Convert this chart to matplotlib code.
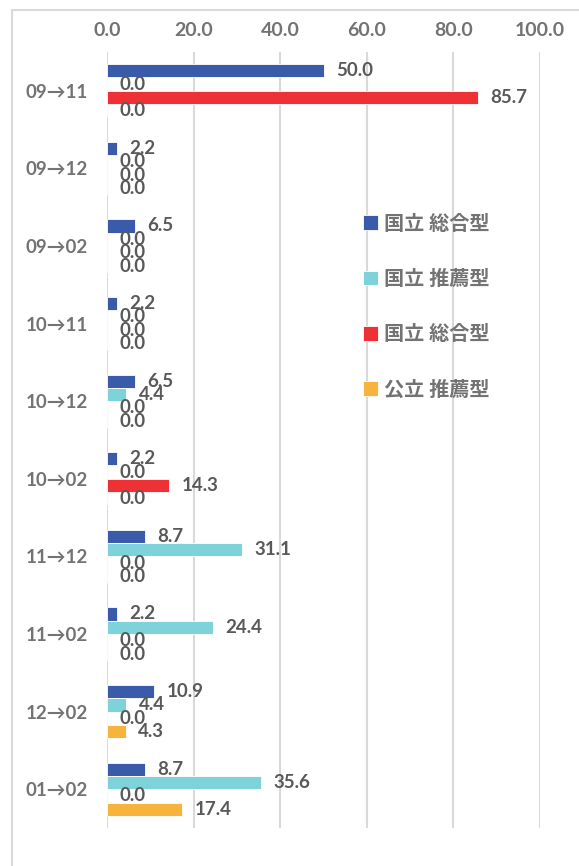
import numpy as np
import matplotlib.pyplot as plt
from matplotlib.patches import Rectangle

plt.rcParams['font.family'] = ['Lato', 'Noto Sans CJK JP', 'DejaVu Sans']

categories = ["09→11", "09→12", "09→02", "10→11", "10→12",
              "10→02", "11→12", "11→02", "12→02", "01→02"]
series_names = ["国立 総合型", "国立 推薦型", "国立 総合型", "公立 推薦型"]
s1 = [50.0, 2.2, 6.5, 2.2, 6.5, 2.2, 8.7, 2.2, 10.9, 8.7]
s2 = [0.0, 0.0, 0.0, 0.0, 4.4, 0.0, 31.1, 24.4, 4.4, 35.6]
s3 = [85.7, 0.0, 0.0, 0.0, 0.0, 14.3, 0.0, 0.0, 0.0, 0.0]
s4 = [0.0, 0.0, 0.0, 0.0, 0.0, 0.0, 0.0, 0.0, 4.3, 17.4]
colors = ["#3A5BAA", "#7ED2DA", "#EE3135", "#F6B43D"]

W, H = 579, 866
fig = plt.figure(figsize=(W / 100, H / 100), dpi=100)
fig.patches.append(Rectangle((12 / W, -0.1), 1.2, 1 - 10 / H + 0.1,
                             transform=fig.transFigure, fill=False,
                             edgecolor="#D9D9D9", linewidth=1.5))

ax = fig.add_axes([107 / W, 1 - 828 / H, (540 - 107) / W, (828 - 52) / H])

y = np.arange(len(categories))
h = 0.172
text_col = "#595959"
for i, (vals, name) in enumerate(zip([s1, s2, s3, s4], series_names)):
    pos = y + (i - 1.5) * h
    ax.barh(pos, vals, height=h, color=colors[i], label=name,
            edgecolor="white", linewidth=0.6, zorder=3)
    for p, v in zip(pos, vals):
        ax.annotate(f"{v:.1f}", (v, p), xytext=(9, 0), textcoords="offset points",
                    ha="left", va="center", fontsize=13.5, fontweight="bold",
                    color=text_col, zorder=4)

ax.set_xlim(0, 100)
ax.set_ylim(len(categories) - 0.5, -0.5)
ax.set_xticks(np.arange(0, 101, 20))
ax.set_xticklabels([f"{t:.1f}" for t in np.arange(0, 101, 20)])
ax.xaxis.tick_top()
ax.tick_params(axis="x", length=0, pad=9, labelsize=14, labelcolor="#737373")
ax.set_yticks(y)
ax.set_yticklabels(categories)
ax.tick_params(axis="y", length=0, pad=14, labelsize=13.5, labelcolor="#737373")
for lbl in ax.get_xticklabels() + ax.get_yticklabels():
    lbl.set_fontweight("bold")
ax.grid(axis="x", color="#D9D9D9", linewidth=1.5, zorder=0)
ax.set_axisbelow(True)
for s in ax.spines.values():
    s.set_visible(False)

leg = ax.legend(loc="upper left", bbox_to_anchor=(0.55, 0.815), frameon=False,
                handlelength=0.75, handleheight=0.75, handletextpad=0.3,
                labelspacing=1.75, prop={"size": 14.5, "weight": "bold"})
for t in leg.get_texts():
    t.set_color("#737373")

fig.savefig("out.png", dpi=100)
